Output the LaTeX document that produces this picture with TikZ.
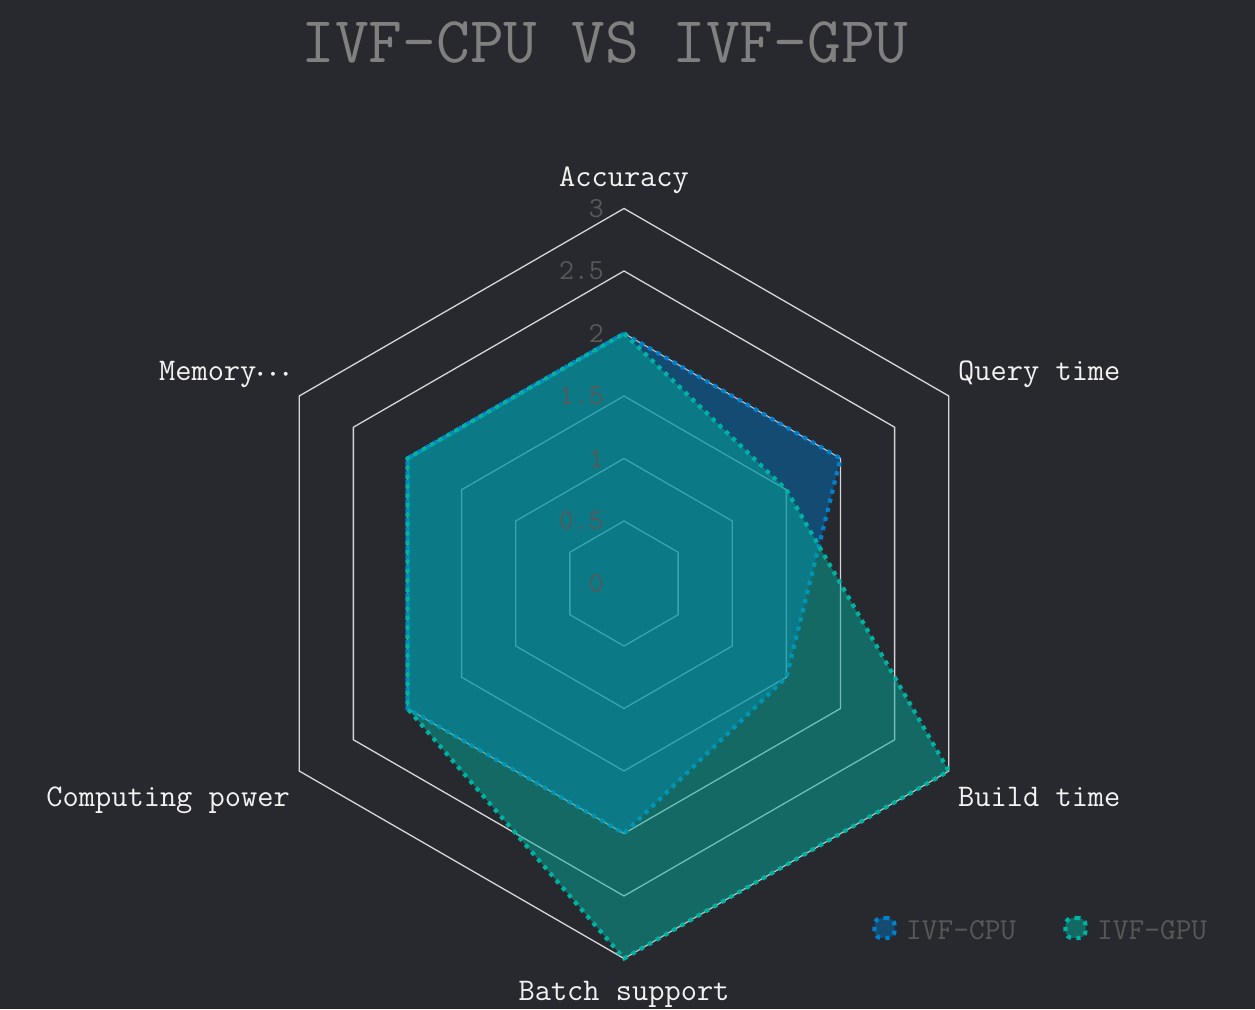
\documentclass[tikz,border=0pt]{standalone}
\usepackage{fontspec}
\begin{document}
\definecolor{bg}{RGB}{40,41,46}
\definecolor{gridc}{RGB}{215,215,215}
\definecolor{cpufill}{RGB}{0,109,184}
\definecolor{gpufill}{RGB}{4,169,154}
\definecolor{cpuline}{RGB}{0,128,205}
\definecolor{gpuline}{RGB}{0,178,162}
\definecolor{titlec}{RGB}{128,128,128}
\definecolor{tickc}{RGB}{88,88,88}
\definecolor{labc}{RGB}{242,242,242}
\begin{tikzpicture}[x=1pt,y=1pt,
  gridline/.style={draw=gridc, line width=1.3pt},
  cpuarea/.style={fill=cpufill, fill opacity=0.5},
  gpuarea/.style={fill=gpufill, fill opacity=0.5},
  cpuborder/.style={draw=cpuline, line width=4.2pt, dash pattern=on 4.2pt off 5.2pt},
  gpuborder/.style={draw=gpuline, line width=4.2pt, dash pattern=on 4.2pt off 5.2pt},
  axislabel/.style={text=labc, font=\ttfamily\fontsize{31.5}{36}\selectfont, inner sep=0pt},
  ticklabel/.style={text=tickc, font=\ttfamily\fontsize{29}{34}\selectfont, inner sep=0pt, anchor=east},
  legendtext/.style={text=tickc, font=\ttfamily\fontsize{30.5}{36}\selectfont, inner sep=0pt, anchor=base west},
  titletext/.style={text=titlec, font=\ttfamily\fontsize{65.5}{72}\selectfont, inner sep=0pt, anchor=base},
  legendicon/.style={rounded corners=7pt, minimum width=20pt, minimum height=20pt, inner sep=0pt}
]
\fill[bg] (0,0) rectangle (1255,1009);
\useasboundingbox (0,0) rectangle (1255,1009);

\node[titletext] (title) at (605,946) {IVF-CPU VS IVF-GPU};

\begin{scope}[shift={(624,425.5)}]
  \foreach \r in {62.5,125,187.5,250,312.5,375}
    \draw[gridline] (90:\r) -- (30:\r) -- (-30:\r) -- (-90:\r) -- (-150:\r) -- (150:\r) -- cycle;
  % IVF-CPU
  \path[cpuarea] (90:250) -- (30:250) -- (-30:187.5) -- (-90:250) -- (210:250) -- (150:250) -- cycle;
  \draw[cpuborder] (90:250) -- (30:250) -- (-30:187.5) -- (-90:250) -- (210:250) -- (150:250) -- cycle;
  % IVF-GPU
  \path[gpuarea] (90:250) -- (30:187.5) -- (-30:375) -- (-90:375) -- (210:250) -- (150:250) -- cycle;
  \draw[gpuborder] (90:250) -- (30:187.5) -- (-30:375) -- (-90:375) -- (210:250) -- (150:250) -- cycle;
\end{scope}

% tick labels
\node[ticklabel] (t0) at (604,425.5) {0};
\node[ticklabel] (t05) at (604,488) {0.5};
\node[ticklabel] (t1) at (604,550.5) {1};
\node[ticklabel] (t15) at (604,613) {1.5};
\node[ticklabel] (t2) at (604,675.5) {2};
\node[ticklabel] (t25) at (604,738) {2.5};
\node[ticklabel] (t3) at (604,800.5) {3};

% axis labels
\node[axislabel, anchor=base] (acc) at (624,822) {Accuracy};
\node[axislabel, anchor=base west] (query) at (958,628) {Query time};
\node[axislabel, anchor=base west] (build) at (958,202) {Build time};
\node[axislabel, anchor=base] (batch) at (624,9) {Batch support};
\node[axislabel, anchor=base east] (comp) at (290,202) {Computing power};
\node[axislabel, anchor=base east] (mem) at (290,628) {Memory{\fontsize{36}{40}\selectfont\boldmath$\cdots$}};

% legend
\node[legendicon, fill=cpufill, fill opacity=0.5] (cpuiconfill) at (884.5,81) {};
\node[legendicon, cpuborder] (cpuicon) at (884.5,81) {};
\node[legendtext] (cpulegend) at (906,70) {IVF-CPU};
\node[legendicon, fill=gpufill, fill opacity=0.5] (gpuiconfill) at (1075.5,81) {};
\node[legendicon, gpuborder] (gpuicon) at (1075.5,81) {};
\node[legendtext] (gpulegend) at (1097,70) {IVF-GPU};
\end{tikzpicture}
\end{document}
